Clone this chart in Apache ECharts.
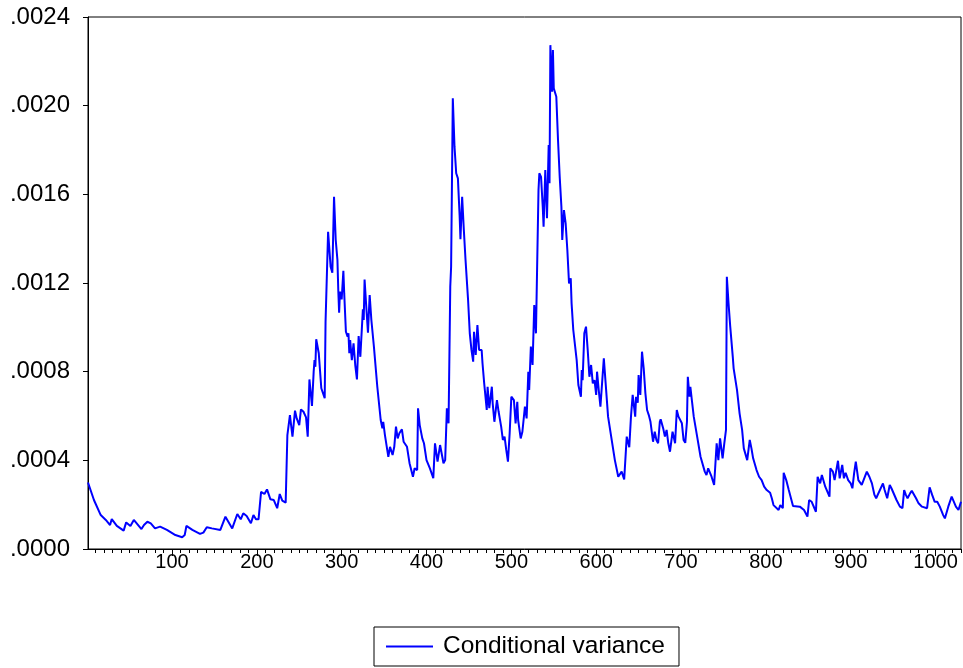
<!DOCTYPE html>
<html>
<head>
<meta charset="utf-8">
<script src="https://cdn.jsdelivr.net/npm/echarts@6/dist/echarts.min.js"></script>
<style>
html,body{margin:0;padding:0;background:#fff;}
#c{width:963px;height:668px;}
</style>
</head>
<body>
<div id="c"></div>
<script>
// observation index
const obs = [
1,8,16,22,27,29,35,43,46,51,55,64,67,71,75,80,86,94,104,112,115,117,124,133,137,141,147,157,163,171,177,181,184,188,193,196,199,202,205,209,212,216,220,224,227,230,234,235,
236,239,242,245,247,250,252,255,258,260,262,265,267,268,269,270,273,276,280,281,282,284,287,289,291,293,295,296,297,298,300,302,303,305,307,308,309,310,312,314,316,318,320,322,325,326,327,329,331,333,335,338,342,346,348,349,351,355,357,360,362,364,366,368,371,373,377,380,384,386,389,390,392,395,397,400,404,408,410,413,416,420,422,424,426,428,429,431,433,435,437,439,440,442,444,446,449,451,453,455,456,458,460,462,465,466,468,471,472,474,477,478,480,483,485,488,490,492,494,496,498,500,503,505,507,508,511,513,516,518,520,521,523,525,527,529,530,532,533,535,537,538,540,542,544,545,546,548,549,550,551,553,555,557,559,560,562,564,566,568,570,571,573,575,577,579,582,583,584,586,588,590,592,594,596,598,600,601,603,605,
609,611,614,618,622,626,628,630,633,636,639,641,643,646,647,649,650,652,654,656,658,660,662,664,667,669,671,673,675,676,679,681,683,685,687,690,693,695,697,699,701,703,705,707,708,710,711,713,715,719,723,728,730,732,736,739,741,742,744,746,749,751,753,754,756,758,761,762,766,769,772,774,778,781,783,785,789,792,795,798,801,805,807,
809,815,817,820,821,824,827,832,840,845,849,851,854,859,861,864,866,870,875,876,879,881,885,887,890,892,894,897,900,902,904,906,909,913,919,922,925,928,930,938,940,943,946,948,954,958,961,963,965,967,970,972,977,980,984,990,993,996,999,1002,1005,1009,1011,1015,1019,1024,1027,1030
];
// conditional variance
const condVar = [
3.00e-4,2.21e-4,1.53e-4,1.31e-4,1.08e-4,1.35e-4,1.04e-4,0.83e-4,1.20e-4,1.04e-4,1.31e-4,0.90e-4,1.08e-4,1.23e-4,1.16e-4,0.93e-4,1.01e-4,0.86e-4,0.63e-4,0.53e-4,0.63e-4,1.04e-4,0.86e-4,0.68e-4,0.74e-4,0.98e-4,0.93e-4,0.86e-4,1.46e-4,0.93e-4,1.58e-4,1.34e-4,1.61e-4,1.49e-4,1.16e-4,1.53e-4,1.34e-4,1.34e-4,2.58e-4,2.48e-4,2.69e-4,2.24e-4,2.21e-4,1.84e-4,2.48e-4,2.18e-4,2.09e-4,2.05e-4,
5.14e-4,6.04e-4,5.07e-4,6.24e-4,5.89e-4,5.59e-4,6.30e-4,6.19e-4,5.94e-4,5.07e-4,7.65e-4,6.45e-4,8.00e-4,8.52e-4,8.22e-4,9.46e-4,8.83e-4,7.25e-4,6.80e-4,10.25e-4,10.25e-4,14.31e-4,12.73e-4,12.46e-4,15.89e-4,13.94e-4,13.04e-4,11.68e-4,10.66e-4,11.61e-4,11.26e-4,12.55e-4,11.53e-4,9.80e-4,9.58e-4,9.73e-4,8.83e-4,9.43e-4,8.52e-4,9.28e-4,8.30e-4,7.65e-4,9.61e-4,8.67e-4,10.81e-4,10.33e-4,12.16e-4,10.93e-4,9.76e-4,11.46e-4,10.33e-4,9.13e-4,7.32e-4,5.82e-4,5.44e-4,5.74e-4,5.14e-4,4.16e-4,4.61e-4,4.24e-4,4.61e-4,5.52e-4,4.99e-4,5.22e-4,5.40e-4,4.84e-4,4.61e-4,3.87e-4,3.26e-4,3.64e-4,3.56e-4,6.35e-4,5.59e-4,4.99e-4,4.77e-4,4.01e-4,3.64e-4,3.19e-4,4.77e-4,3.94e-4,4.69e-4,3.87e-4,4.01e-4,6.35e-4,5.67e-4,11.83e-4,12.73e-4,20.33e-4,18.15e-4,16.95e-4,16.72e-4,15.07e-4,13.97e-4,15.89e-4,14.39e-4,13.04e-4,11.23e-4,9.73e-4,8.98e-4,8.45e-4,9.80e-4,8.75e-4,10.10e-4,8.98e-4,8.98e-4,8.38e-4,7.47e-4,6.27e-4,7.32e-4,6.35e-4,7.32e-4,6.57e-4,5.74e-4,6.72e-4,6.19e-4,5.52e-4,4.92e-4,5.07e-4,4.47e-4,3.94e-4,5.22e-4,6.87e-4,6.72e-4,5.67e-4,6.64e-4,5.82e-4,4.99e-4,5.29e-4,6.42e-4,5.89e-4,8.00e-4,7.17e-4,9.13e-4,8.30e-4,11.01e-4,9.73e-4,9.80e-4,16.19e-4,16.95e-4,16.79e-4,15.44e-4,14.54e-4,17.10e-4,14.92e-4,18.22e-4,16.50e-4,22.73e-4,20.63e-4,22.51e-4,20.78e-4,20.70e-4,20.40e-4,18.45e-4,16.79e-4,15.44e-4,13.94e-4,15.29e-4,14.69e-4,13.49e-4,11.98e-4,12.21e-4,11.08e-4,9.88e-4,9.80e-4,8.52e-4,7.40e-4,6.87e-4,8.07e-4,7.62e-4,9.73e-4,10.03e-4,8.98e-4,7.77e-4,8.30e-4,7.47e-4,7.62e-4,6.95e-4,8.00e-4,7.17e-4,6.42e-4,
8.60e-4,7.55e-4,5.97e-4,4.99e-4,4.01e-4,3.26e-4,3.29e-4,3.49e-4,3.14e-4,5.07e-4,4.59e-4,5.97e-4,6.95e-4,5.97e-4,6.87e-4,6.60e-4,7.85e-4,6.95e-4,8.90e-4,8.15e-4,7.02e-4,6.27e-4,6.04e-4,5.74e-4,4.84e-4,5.29e-4,4.92e-4,4.77e-4,5.74e-4,5.85e-4,5.44e-4,5.07e-4,5.37e-4,4.77e-4,4.39e-4,5.29e-4,4.77e-4,6.27e-4,5.97e-4,5.97e-4,5.67e-4,4.92e-4,4.79e-4,5.74e-4,7.77e-4,6.87e-4,7.32e-4,6.64e-4,5.97e-4,5.07e-4,4.16e-4,3.49e-4,3.34e-4,3.64e-4,3.26e-4,2.89e-4,2.89e-4,4.77e-4,4.01e-4,4.99e-4,4.09e-4,4.77e-4,5.37e-4,12.28e-4,11.08e-4,10.03e-4,8.67e-4,8.15e-4,7.17e-4,6.12e-4,5.37e-4,4.54e-4,4.01e-4,4.92e-4,4.54e-4,4.09e-4,3.56e-4,3.26e-4,3.11e-4,2.81e-4,2.66e-4,2.54e-4,2.29e-4,
1.98e-4,1.76e-4,1.98e-4,1.84e-4,3.44e-4,3.11e-4,2.66e-4,1.94e-4,1.91e-4,1.76e-4,1.46e-4,2.21e-4,2.13e-4,1.68e-4,3.26e-4,2.96e-4,3.34e-4,2.81e-4,2.36e-4,3.64e-4,3.49e-4,3.11e-4,3.98e-4,3.19e-4,3.79e-4,3.19e-4,3.44e-4,3.11e-4,2.96e-4,2.74e-4,3.41e-4,3.94e-4,3.11e-4,2.89e-4,3.49e-4,3.26e-4,2.96e-4,2.44e-4,2.29e-4,2.96e-4,2.66e-4,2.29e-4,2.89e-4,2.74e-4,2.21e-4,1.91e-4,1.84e-4,2.66e-4,2.44e-4,2.29e-4,2.51e-4,2.63e-4,2.29e-4,2.06e-4,1.91e-4,1.84e-4,2.78e-4,2.44e-4,2.13e-4,2.13e-4,1.91e-4,1.53e-4,1.38e-4,1.91e-4,2.36e-4,1.91e-4,1.76e-4,2.13e-4
];
const xLabelTicks = [100,200,300,400,500,600,700,800,900,1000];
const yTicks = [0,0.0004,0.0008,0.0012,0.0016,0.0020,0.0024];
const seriesName = 'Conditional variance';

const minorTicks = [];
for (let v = 10; v <= 1030; v += 10) minorTicks.push(v);

const chart = echarts.init(document.getElementById('c'), null, {renderer:'canvas'});
const FONT = 'Liberation Sans, Arial, sans-serif';
chart.setOption({
  animation:false,
  backgroundColor:'#fff',
  grid:{left:88,right:2,top:17,bottom:119,show:true,borderColor:'#000',borderWidth:1,backgroundColor:'transparent'},
  xAxis:[{
    type:'value',min:1,max:1030,position:'bottom',
    axisLine:{show:true,lineStyle:{color:'#000',width:1}},
    axisTick:{show:true,inside:false,length:7,customValues:xLabelTicks,lineStyle:{color:'#000'}},
    axisLabel:{show:true,customValues:xLabelTicks,color:'#000',fontSize:20,fontFamily:FONT,margin:3,
      formatter:function(v){return String(Math.round(v));}},
    splitLine:{show:false}
  },{
    type:'value',min:1,max:1030,position:'bottom',gridIndex:0,
    axisLine:{show:false},
    axisTick:{show:true,inside:false,length:4,customValues:minorTicks,lineStyle:{color:'#000'}},
    axisLabel:{show:false},
    splitLine:{show:false}
  }],
  yAxis:{
    type:'value',min:0,max:0.0024,interval:0.0004,
    axisLine:{show:true,lineStyle:{color:'#000',width:1}},
    axisTick:{show:true,inside:false,length:5,lineStyle:{color:'#000'}},
    axisLabel:{color:'#000',fontSize:24,fontFamily:FONT,margin:18,
      formatter:function(v){return v.toFixed(4).replace(/^0/,'');}},
    splitLine:{show:false}
  },
  legend:{
    show:true,left:374,top:627,orient:'horizontal',
    borderColor:'#000',borderWidth:1,padding:[6,14,6,12],
    itemWidth:47,itemHeight:2,icon:'rect',
    itemStyle:{color:'#0000FF'},
    textStyle:{color:'#000',fontSize:24.5,lineHeight:27,fontFamily:FONT,padding:[0,0,0,5]},
    data:[seriesName]
  },
  series:[{
    name:seriesName,type:'line',xAxisIndex:0,yAxisIndex:0,
    data:obs.map((o,i)=>[o,condVar[i]]),
    symbol:'none',showSymbol:false,
    lineStyle:{color:'#0000FF',width:2},
    itemStyle:{color:'#0000FF'}
  }]
});
</script>
</body>
</html>
